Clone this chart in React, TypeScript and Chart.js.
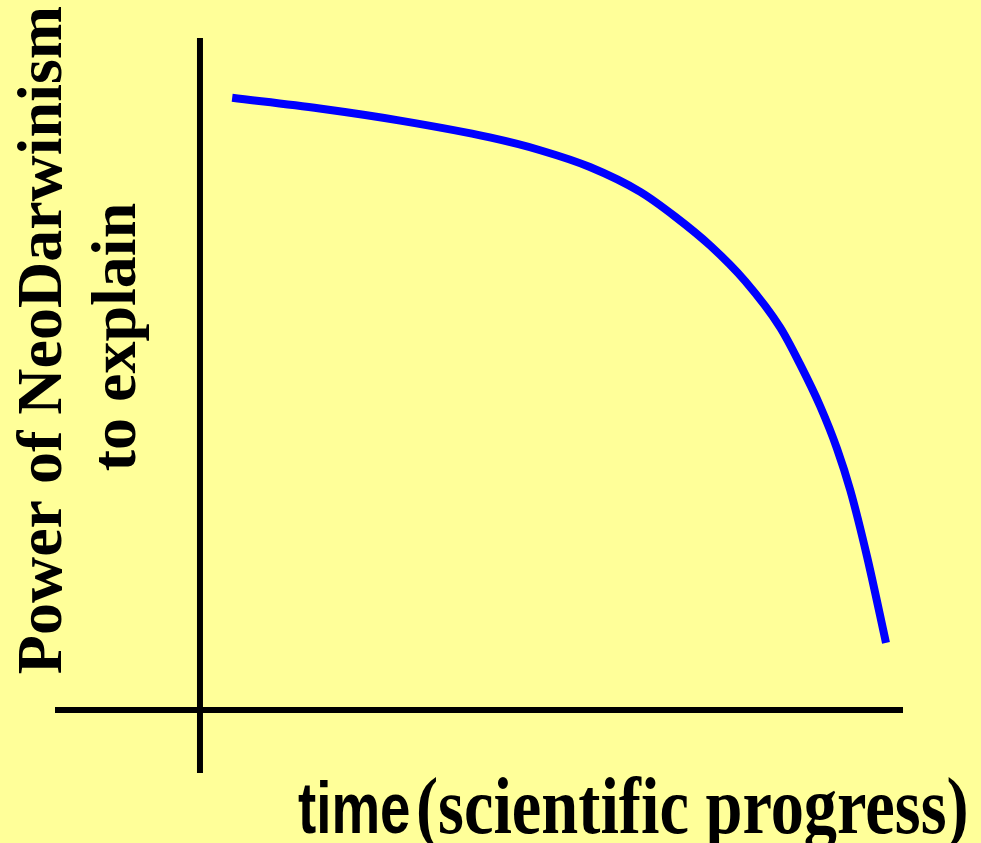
import React, { useEffect, useRef } from "react";
import { Chart, registerables } from "chart.js";

Chart.register(...registerables);

// Schematic values (arbitrary units, axes cross at 0,0)
const timeValues = [4.6, 17.1, 28.6, 41.4, 48.6, 55.7, 62.9, 67.9, 72.9, 77.9, 82.9, 85.7, 88.6, 91.0, 92.9, 95.3, 98.0];
const powerValues = [91.1, 89.5, 87.7, 85.2, 83.3, 80.8, 77.1, 73.4, 69.1, 63.8, 56.9, 51.5, 45.2, 38.9, 32.7, 22.8, 10.0];

const yTitleLines = ["Power of NeoDarwinism", "to explain"];
const xTitleMain = "time";
const xTitleSub = "(scientific progress)";

const BG = "#FFFF99";

export default function App() {
  const ref = useRef<HTMLCanvasElement | null>(null);

  useEffect(() => {
    document.body.style.margin = "0";
    const canvas = ref.current;
    if (!canvas) return;

    const bgPlugin = {
      id: "bg",
      beforeDraw(chart: any) {
        const ctx = chart.ctx;
        ctx.save();
        ctx.fillStyle = BG;
        ctx.fillRect(0, 0, chart.width, chart.height);
        ctx.restore();
      },
    };

    const axesPlugin = {
      id: "crossAxes",
      beforeDatasetsDraw(chart: any) {
        const ctx = chart.ctx;
        const xs = chart.scales.x;
        const ys = chart.scales.y;
        const area = chart.chartArea;
        const x0 = xs.getPixelForValue(0);
        const y0 = ys.getPixelForValue(0);
        ctx.save();
        ctx.strokeStyle = "#000";
        ctx.lineWidth = 6;
        ctx.lineCap = "butt";
        ctx.beginPath();
        ctx.moveTo(x0, area.top);
        ctx.lineTo(x0, area.bottom);
        ctx.moveTo(area.left, y0);
        ctx.lineTo(area.right, y0);
        ctx.stroke();
        ctx.restore();
      },
      afterDraw(chart: any) {
        const ctx = chart.ctx;
        ctx.save();
        ctx.fillStyle = "#000";
        // Y title (rotated)
        ctx.save();
        ctx.translate(61, 340);
        ctx.rotate(-Math.PI / 2);
        ctx.textAlign = "center";
        ctx.textBaseline = "alphabetic";
        ctx.font = "bold 64px 'Liberation Serif', 'Times New Roman', serif";
        ctx.fillText(yTitleLines[0], 0, 0);
        ctx.fillText(yTitleLines[1], 3, 74);
        ctx.restore();

        // X title
        const baseY = 833;
        ctx.save();
        ctx.translate(298, baseY);
        ctx.scale(0.76, 1);
        ctx.textAlign = "left";
        ctx.textBaseline = "alphabetic";
        ctx.font = "bold 72px 'Liberation Sans', Arial, sans-serif";
        ctx.fillText(xTitleMain, 0, 0);
        ctx.restore();

        ctx.save();
        ctx.translate(416, baseY);
        ctx.scale(0.83, 1);
        ctx.textAlign = "left";
        ctx.textBaseline = "alphabetic";
        ctx.font = "bold 80px 'Liberation Serif', 'Times New Roman', serif";
        ctx.fillText(xTitleSub, 0, 0);
        ctx.restore();
        ctx.restore();
      },
    };

    const chart = new Chart(canvas, {
      type: "line",
      data: {
        datasets: [
          {
            data: timeValues.map((t, i) => ({ x: t, y: powerValues[i] })),
            borderColor: "#0000FF",
            borderWidth: 8,
            pointRadius: 0,
            fill: false,
            cubicInterpolationMode: "monotone",
            borderCapStyle: "butt",
            borderJoinStyle: "round",
          },
        ],
      },
      options: {
        responsive: false,
        animation: false,
        layout: { padding: { left: 55, right: 78, top: 38, bottom: 70 } },
        plugins: { legend: { display: false }, tooltip: { enabled: false } },
        scales: {
          x: { type: "linear", min: -20.71, max: 100.43, display: false },
          y: { type: "linear", min: -9.375, max: 100, display: false },
        },
      },
      plugins: [bgPlugin, axesPlugin],
    });

    return () => chart.destroy();
  }, []);

  return (
    <div style={{ position: "absolute", left: 0, top: 0, width: 981, height: 843 }}>
      <canvas ref={ref} width={981} height={843} style={{ width: 981, height: 843, display: "block" }} />
    </div>
  );
}
